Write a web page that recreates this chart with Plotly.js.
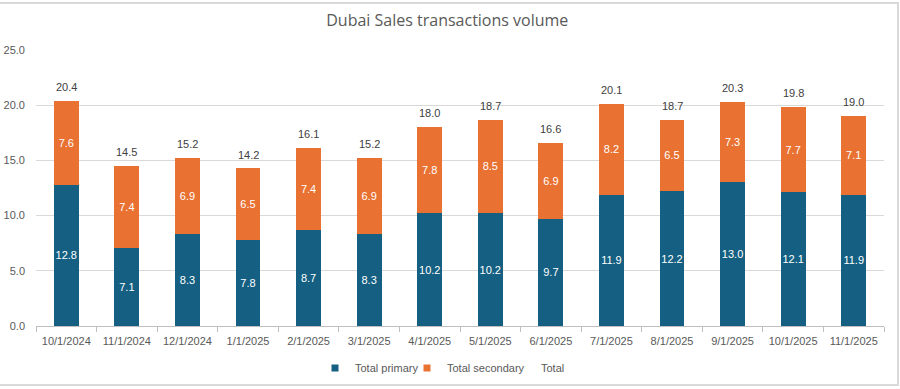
<!DOCTYPE html>
<html>
<head>
<meta charset="utf-8">
<script src="https://cdn.plot.ly/plotly-3.0.1.min.js"></script>
<style>
html,body{margin:0;padding:0;background:#fff;}
#chart{width:900px;height:389px;}
</style>
</head>
<body>
<div id="chart"></div>
<script>
const categories = ["10/1/2024","11/1/2024","12/1/2024","1/1/2025","2/1/2025","3/1/2025","4/1/2025","5/1/2025","6/1/2025","7/1/2025","8/1/2025","9/1/2025","10/1/2025","11/1/2025"];
const totalPrimary = [12.8, 7.1, 8.3, 7.8, 8.7, 8.3, 10.2, 10.2, 9.7, 11.9, 12.2, 13.0, 12.1, 11.9];
const totalSecondary = [7.6, 7.4, 6.9, 6.5, 7.4, 6.9, 7.8, 8.5, 6.9, 8.2, 6.5, 7.3, 7.7, 7.1];
const total = [20.4, 14.5, 15.2, 14.2, 16.1, 15.2, 18.0, 18.7, 16.6, 20.1, 18.7, 20.3, 19.8, 19.0];
const yTicks = [0, 5, 10, 15, 20, 25];
const seriesNames = ["Total primary", "Total secondary", "Total"];
const seriesColors = ["#156082", "#E97132"];

const FONT = "Liberation Sans, Arial, sans-serif";

const traces = [
  {
    type: "bar", name: seriesNames[0], x: categories, y: totalPrimary,
    marker: {color: seriesColors[0]}, showlegend: false,
    text: totalPrimary.map(v => v.toFixed(1)), textposition: "inside",
    insidetextanchor: "middle", textangle: 0, constraintext: "none",
    textfont: {color: "#ffffff", size: 11, family: FONT},
    hoverinfo: "skip"
  },
  {
    type: "bar", name: seriesNames[1], x: categories, y: totalSecondary,
    marker: {color: seriesColors[1]}, showlegend: false,
    text: totalSecondary.map(v => v.toFixed(1)), textposition: "inside",
    insidetextanchor: "middle", textangle: 0, constraintext: "none",
    textfont: {color: "#ffffff", size: 11, family: FONT},
    hoverinfo: "skip"
  },
  {
    type: "scatter", mode: "lines", name: seriesNames[2], x: categories, y: total,
    line: {color: "rgba(0,0,0,0)", width: 0}, legend: "legend3",
    hoverinfo: "skip"
  },
  // legend entries with small square swatches
  {type: "scatter", mode: "markers", name: seriesNames[0], x: [null], y: [null],
   marker: {symbol: "square", size: 7, color: seriesColors[0]}, legend: "legend", hoverinfo: "skip"},
  {type: "scatter", mode: "markers", name: seriesNames[1], x: [null], y: [null],
   marker: {symbol: "square", size: 7, color: seriesColors[1]}, legend: "legend2", hoverinfo: "skip"}
];

const totalLabels = categories.map((c, i) => ({
  x: c, y: total[i], xref: "x", yref: "y",
  text: total[i].toFixed(1), showarrow: false,
  yanchor: "bottom", yshift: 6,
  font: {color: "#404040", size: 11, family: FONT}
}));

const L = 36, R = 884, T = 50, B = 326;
const pw = R - L, ph = B - T;
const legY = 1 - 368 / 389;
const legFont = {size: 11, color: "#595959", family: FONT};
function legendAt(px) {
  return {orientation: "h", xref: "container", x: px / 900, xanchor: "left",
          yref: "container", y: legY, yanchor: "middle", font: legFont,
          itemwidth: 30, bgcolor: "rgba(0,0,0,0)"};
}

const layout = {
  width: 900, height: 389,
  margin: {l: L, r: 900 - R, t: T, b: 389 - B, pad: 0},
  paper_bgcolor: "#ffffff", plot_bgcolor: "#ffffff",
  barmode: "stack", bargap: 0.59,
  showlegend: true,
  font: {family: FONT, color: "#595959", size: 11},
  title: {
    text: "Dubai Sales transactions volume",
    font: {family: "Open Sans, Liberation Sans, sans-serif", size: 16, color: "#595959"},
    x: 0.497, xanchor: "center", y: 1 - 20/389, yanchor: "middle"
  },
  xaxis: {
    type: "category", range: [-0.5, categories.length - 0.5],
    showgrid: false, zeroline: false,
    showline: true, linecolor: "#bfbfbf", linewidth: 1,
    ticks: "outside", tickson: "boundaries", ticklen: 5, tickcolor: "#bfbfbf",
    ticklabelstandoff: 5,
    tickfont: {size: 11, color: "#595959", family: FONT},
    automargin: false
  },
  yaxis: {
    range: [0, 25], tickvals: yTicks, ticktext: yTicks.map(v => v.toFixed(1)),
    showgrid: true, gridcolor: "#d9d9d9", gridwidth: 1, zeroline: false,
    showline: false, ticks: "", ticklabelstandoff: 10,
    tickfont: {size: 11, color: "#595959", family: FONT},
    automargin: false
  },
  legend: legendAt(315),
  legend2: legendAt(407),
  legend3: legendAt(501),
  annotations: totalLabels,
  shapes: [
    {type: "rect", xref: "paper", yref: "paper",
     x0: -(L + 2) / pw, x1: (898 - L) / pw,
     y0: (B - 385) / ph, y1: (B - 3) / ph,
     line: {color: "#d9d9d9", width: 2}, fillcolor: "rgba(0,0,0,0)", layer: "below"}
  ]
};

Plotly.newPlot("chart", traces, layout, {displayModeBar: false, staticPlot: true});
</script>
</body>
</html>
